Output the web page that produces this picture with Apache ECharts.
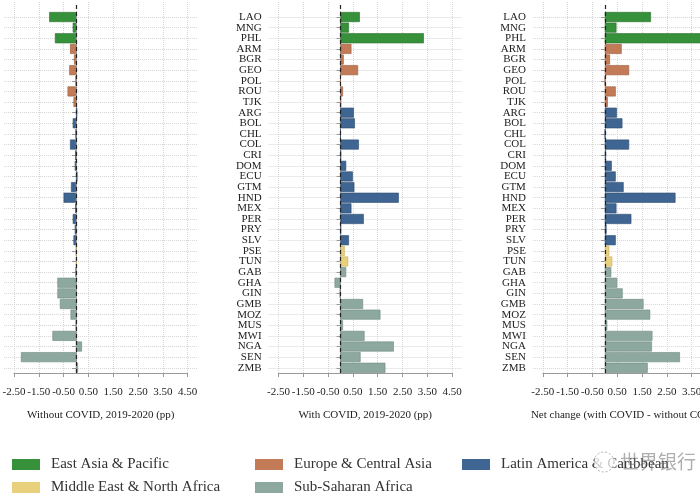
<!DOCTYPE html>
<html><head><meta charset="utf-8">
<script src="https://cdn.jsdelivr.net/npm/echarts@6/dist/echarts.min.js"></script>
<style>html,body{margin:0;padding:0;background:#fff}#c{width:700px;height:500px}</style>
</head><body><div id="c"></div>
<script>
const countries = ['LAO','MNG','PHL','ARM','BGR','GEO','POL','ROU','TJK','ARG','BOL','CHL','COL','CRI','DOM','ECU','GTM','HND','MEX','PER','PRY','SLV','PSE','TUN','GAB','GHA','GIN','GMB','MOZ','MUS','MWI','NGA','SEN','ZMB'];
const regions = ['East Asia & Pacific','Europe & Central Asia','Latin America & Caribbean','Middle East & North Africa','Sub-Saharan Africa'];
const regionIndex = [0,0,0,1,1,1,1,1,1,2,2,2,2,2,2,2,2,2,2,2,2,2,3,3,4,4,4,4,4,4,4,4,4,4];
const withoutCovid = [-1.08,-0.13,-0.85,-0.24,-0.08,-0.27,-0.01,-0.34,-0.10,0.05,-0.13,-0.01,-0.24,-0.03,-0.05,0.06,-0.20,-0.50,-0.03,-0.13,-0.05,-0.10,0.00,0.02,-0.03,-0.75,-0.75,-0.65,-0.22,0.00,-0.95,0.24,-2.22,0.08];
const withCovid = [0.78,0.34,3.36,0.44,0.13,0.71,0.00,0.10,0.02,0.54,0.58,0.00,0.74,0.02,0.23,0.50,0.56,2.35,0.44,0.94,0.02,0.34,0.17,0.31,0.23,-0.24,-0.03,0.91,1.61,0.10,0.97,2.15,0.81,1.81];
const netChange = [1.86,0.47,4.21,0.68,0.21,0.98,0.01,0.44,0.12,0.49,0.71,0.01,0.98,0.05,0.28,0.44,0.76,2.85,0.47,1.07,0.07,0.44,0.18,0.30,0.26,0.50,0.72,1.56,1.83,0.10,1.92,1.90,3.03,1.73];
const axisTitles = ['Without COVID, 2019-2020 (pp)','With COVID, 2019-2020 (pp)','Net change (with COVID - without COVID)'];

const regionColors = ['#37903a','#c27b56','#3f6592','#e9d07d','#8da89e'];
const regionBorders = ['#2a6e2c','#9a5c3e','#2d4c70','#c9ae5c','#6f8a80'];
const FONT = '"Liberation Serif", "Times New Roman", serif';
const panelData = [withoutCovid, withCovid, netChange];
const U = 24.8;
const zeros = [76, 340.5, 604.8];

const grid = [], xAxis = [], yAxis = [], series = [];
zeros.forEach((z, i) => {
  grid.push({left: z - 2.9 * U, top: 11.7, width: 7.8 * U, height: 361.4, containLabel: false, outerBoundsMode: 'none'});
  grid.push({left: z - 2.5 * U, top: 2, width: 7 * U, height: 371, containLabel: false, outerBoundsMode: 'none'});
  xAxis.push({gridIndex: 2 * i, type: 'value', min: -2.9, max: 4.9, show: false});
  yAxis.push({
    gridIndex: 2 * i, type: 'category', data: countries, inverse: true,
    axisLine: {show: true, lineStyle: {color: '#9a9a9a'}},
    axisTick: {show: true, length: 4, alignWithLabel: true, lineStyle: {color: '#9a9a9a'}},
    axisLabel: {fontFamily: FONT, fontSize: 11, color: '#222', margin: 7, interval: 0},
    splitLine: {show: true, alignWithLabel: true, interval: 0, lineStyle: {color: '#d6d6d6', type: 'dotted'}}
  });
  xAxis.push({
    gridIndex: 2 * i + 1, type: 'value', min: -2.5, max: 4.5, interval: 1,
    position: 'bottom', offset: 9,
    axisLine: {show: true, lineStyle: {color: '#9a9a9a'}},
    axisTick: {show: true, length: 4, lineStyle: {color: '#9a9a9a'}},
    axisLabel: {formatter: v => v.toFixed(2), fontFamily: FONT, fontSize: 11, color: '#222', margin: 5, hideOverlap: false},
    splitLine: {show: true, lineStyle: {color: '#d6d6d6', type: 'dotted'}},
    name: axisTitles[i], nameLocation: 'middle', nameGap: 28,
    nameTextStyle: {fontFamily: FONT, fontSize: 11, color: '#222'}
  });
  yAxis.push({gridIndex: 2 * i + 1, type: 'value', min: 0, max: 1, show: false});
  regions.forEach((r, k) => {
    series.push({
      type: 'bar', name: r, xAxisIndex: 2 * i, yAxisIndex: 2 * i, stack: 'p' + i,
      barCategoryGap: '6%', z: 2,
      itemStyle: {color: regionColors[k], borderColor: regionBorders[k], borderWidth: 0.6},
      data: countries.map((c, j) => regionIndex[j] === k ? panelData[i][j] : '-')
    });
  });
  series.push({
    type: 'line', name: 'zero' + i, xAxisIndex: 2 * i + 1, yAxisIndex: 2 * i + 1, data: [], z: 5,
    markLine: {silent: true, symbol: ['none', 'none'], label: {show: false},
      lineStyle: {color: '#222', type: [4, 3], width: 1.2}, data: [{xAxis: 0}]}
  });
});

const legendCols = [12, 255, 462];
const legendRows = [457, 480];
const legendPos = [[0, 0], [1, 0], [2, 0], [0, 1], [1, 1]];
const legend = regions.map((r, k) => ({
  data: [{name: r, itemStyle: {borderWidth: 0}}], left: legendCols[legendPos[k][0]], top: legendRows[legendPos[k][1]],
  icon: 'rect', itemWidth: 28, itemHeight: 11, padding: 0, selectedMode: false,
  textStyle: {fontFamily: FONT, fontSize: 15, color: '#333', padding: [0, 0, 0, 6]}
}));

const chart = echarts.init(document.getElementById('c'), null, {renderer: 'canvas'});
chart.setOption({
  animation: false,
  backgroundColor: '#fff',
  grid, xAxis, yAxis, series, legend,
  graphic: [
    {type: 'circle', z: 100, shape: {cx: 604, cy: 462, r: 10},
      style: {fill: 'rgba(255,255,255,0.75)', stroke: 'rgba(140,140,140,0.7)', lineDash: [2, 2], lineWidth: 1}},
    {type: 'text', z: 100, x: 620, y: 452,
      style: {text: '世界银行', font: '19px "Noto Sans CJK SC"', fill: 'rgba(110,110,110,0.55)'}}
  ]
});
</script></body></html>
